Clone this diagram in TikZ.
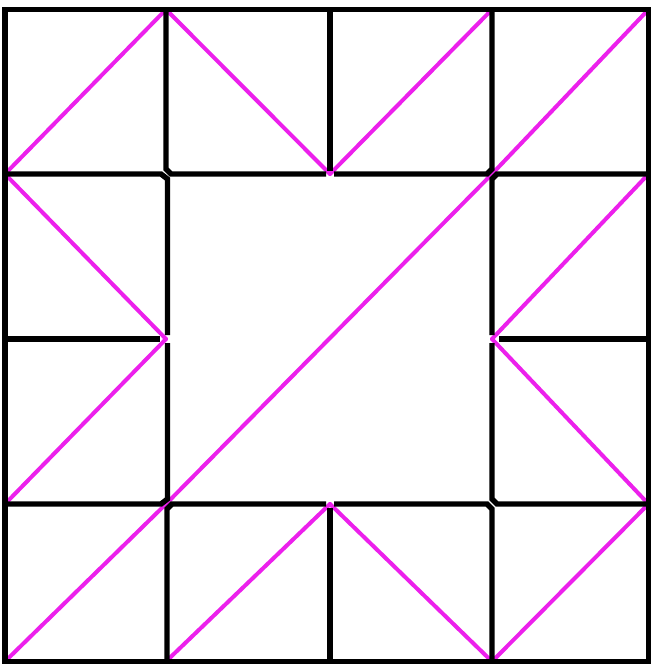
\documentclass[tikz,border=0pt]{standalone}
\begin{document}
\begin{tikzpicture}[x=1pt,y=-1pt,
  grid/.style={draw=black,line width=5.4pt,line join=miter,line cap=butt},
  diag/.style={draw=pinkline,line width=4pt,line cap=round},
]
\definecolor{pinkline}{RGB}{236,32,236}
\useasboundingbox[fill=white] (0,0) rectangle (651,664);
\def\XA{5}\def\XB{166}\def\XC{330}\def\XD{492}\def\XE{648.5}
\def\YA{9.5}\def\YB{174}\def\YC{339}\def\YD{504}\def\YE{661.5}
\def\c{5}
% magenta diagonals
\draw[diag] (\XA,\YB) -- (\XB,\YA);
\draw[diag] (\XB,\YA) -- (\XC,\YB);
\draw[diag] (\XC,\YB) -- (\XD,\YA);
\draw[diag] (\XA,\YE) -- (\XB,\YD) -- (\XD,\YB) -- (\XE,\YA);
\draw[diag] (\XA,\YB) -- (\XB,\YC);
\draw[diag] (\XB,\YC) -- (\XA,\YD);
\draw[diag] (\XD,\YC) -- (\XE,\YB);
\draw[diag] (\XD,\YC) -- (\XE,\YD);
\draw[diag] (\XB,\YE) -- (\XC,\YD);
\draw[diag] (\XC,\YD) -- (\XD,\YE);
\draw[diag] (\XD,\YE) -- (\XE,\YD);
% black grid
\draw[grid] (\XA,\YA) rectangle (\XE,\YE);
% top middle outline
\draw[grid] (\XB,\YA) -- (\XB,\YB-\c) -- (\XB+\c,\YB) -- (\XC-4,\YB);
\draw[grid] (\XC+4,\YB) -- (\XD-\c,\YB) -- (\XD,\YB-\c) -- (\XD,\YA);
% left column outline
\draw[grid] (\XA,\YB) -- (\XB-\c,\YB) -- (\XB+1.5,\YB+\c) -- (\XB+1.5,\YC-4);
\draw[grid] (\XB+1.5,\YC+4) -- (\XB+1.5,\YD-\c) -- (\XB-\c,\YD) -- (\XA,\YD);
% bottom middle outline
\draw[grid] (\XB+1,\YE) -- (\XB+1,\YD+\c) -- (\XB+1+\c,\YD) -- (\XC-4,\YD);
\draw[grid] (\XC+4,\YD) -- (\XD-\c,\YD) -- (\XD,\YD+\c) -- (\XD,\YE);
% right column outline
\draw[grid] (\XE,\YB) -- (\XD+\c,\YB) -- (\XD,\YB+\c) -- (\XD,\YC-4);
\draw[grid] (\XD,\YC+4) -- (\XD,\YD-\c) -- (\XD+\c,\YD) -- (\XE,\YD);
% single dividers
\draw[grid] (\XC,\YA) -- (\XC,\YB-3);
\draw[grid] (\XC,\YD+4) -- (\XC,\YE);
\draw[grid] (\XA,\YC) -- (\XB-6,\YC);
\draw[grid] (\XD+7,\YC) -- (\XE,\YC);
\end{tikzpicture}
\end{document}
